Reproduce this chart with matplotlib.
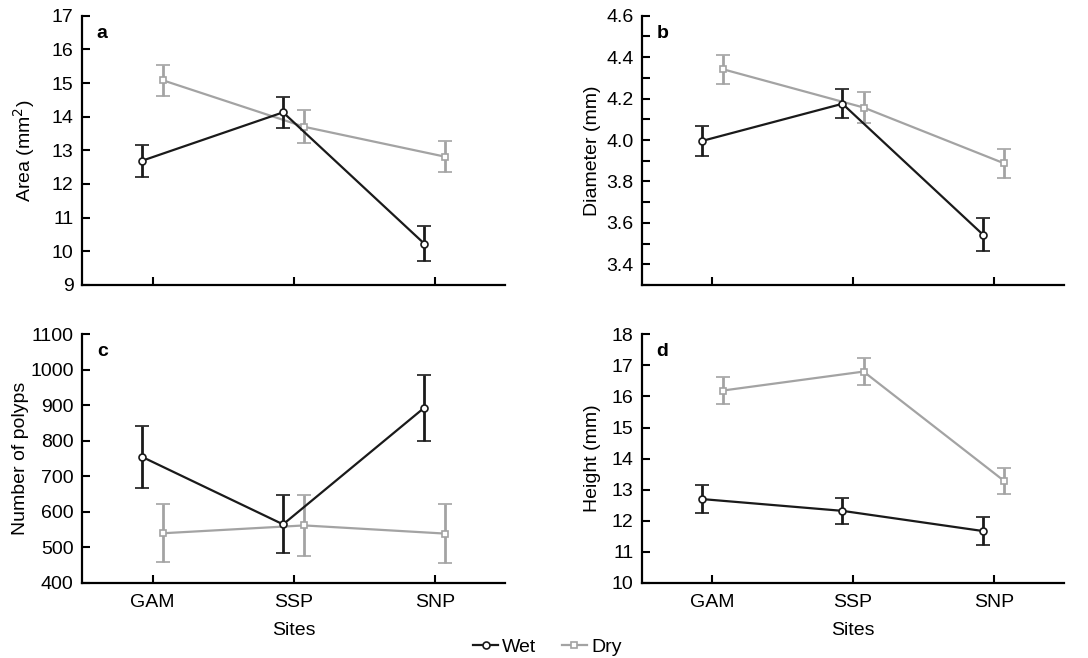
import matplotlib
matplotlib.use("Agg")
import matplotlib.pyplot as plt
from matplotlib.lines import Line2D
import numpy as np

plt.rcParams['font.family'] = ['Liberation Sans', 'DejaVu Sans']

sites = ["GAM", "SSP", "SNP"]

area_wet = [12.69, 14.13, 10.23]
area_wet_err = [0.48, 0.47, 0.52]
area_dry = [15.08, 13.70, 12.81]
area_dry_err = [0.47, 0.49, 0.46]

diam_wet = [3.995, 4.175, 3.542]
diam_wet_err = [0.073, 0.07, 0.08]
diam_dry = [4.342, 4.157, 3.887]
diam_dry_err = [0.07, 0.074, 0.07]

polyps_wet = [755, 565, 893]
polyps_wet_err = [87, 82, 92]
polyps_dry = [540, 562, 539]
polyps_dry_err = [82, 86, 82]

height_wet = [12.70, 12.32, 11.67]
height_wet_err = [0.44, 0.42, 0.46]
height_dry = [16.19, 16.80, 13.28]
height_dry_err = [0.42, 0.44, 0.43]

WET_C = "#1a1a1a"
DRY_C = "#a3a3a3"
FS = 14

fig = plt.figure(figsize=(10.88, 6.58), dpi=100)

boxes = {
    'a': [0.0754, 0.567, 0.389, 0.409],
    'b': [0.590, 0.567, 0.388, 0.409],
    'c': [0.0754, 0.114, 0.389, 0.378],
    'd': [0.590, 0.114, 0.388, 0.378],
}
label_x = {'a': -0.107, 'b': -0.098, 'c': -0.126, 'd': -0.098}

panels = [
    ('a', area_wet, area_wet_err, area_dry, area_dry_err, (9, 17), np.arange(9, 18, 1), None, "Area (mm$^2$)", "{:.0f}"),
    ('b', diam_wet, diam_wet_err, diam_dry, diam_dry_err, (3.3, 4.6), np.arange(3.4, 4.61, 0.2), np.arange(3.3, 4.61, 0.1), "Diameter (mm)", "{:.1f}"),
    ('c', polyps_wet, polyps_wet_err, polyps_dry, polyps_dry_err, (400, 1100), np.arange(400, 1101, 100), None, "Number of polyps", "{:.0f}"),
    ('d', height_wet, height_wet_err, height_dry, height_dry_err, (10, 18), np.arange(10, 19, 1), None, "Height (mm)", "{:.0f}"),
]

x = np.arange(len(sites))
off = 0.075
for key, w, we, d, de, ylim, yt, ymin, ylab, fmt in panels:
    ax = fig.add_axes(boxes[key])
    ax.errorbar(x - off, w, yerr=we, color=WET_C, lw=1.6, elinewidth=2.0, capsize=5, capthick=2.0,
                marker='o', ms=5, mfc='white', mec=WET_C, mew=1.2, zorder=3)
    ax.errorbar(x + off, d, yerr=de, color=DRY_C, lw=1.6, elinewidth=2.0, capsize=5, capthick=2.0,
                marker='s', ms=5, mfc='white', mec=DRY_C, mew=1.2, zorder=2)
    ax.set_xlim(-0.5, 2.5)
    ax.set_ylim(*ylim)
    ax.set_yticks(yt)
    ax.set_yticklabels([fmt.format(v) for v in yt])
    if ymin is not None:
        ax.set_yticks(ymin, minor=True)
        ax.tick_params(axis='y', which='minor', direction='in', length=6, width=1.5)
    ax.set_xticks(x)
    if key in ('c', 'd'):
        ax.set_xticklabels(sites)
        ax.set_xlabel("Sites", fontsize=FS, labelpad=8)
    else:
        ax.set_xticklabels([])
    ax.spines['top'].set_visible(False)
    ax.spines['right'].set_visible(False)
    ax.spines['left'].set_linewidth(1.6)
    ax.spines['bottom'].set_linewidth(1.6)
    ax.tick_params(axis='both', which='major', direction='in', length=6, width=1.5, labelsize=FS)
    ax.tick_params(axis='x', pad=8)
    ax.tick_params(axis='y', pad=6)
    ax.set_ylabel(ylab, fontsize=FS)
    ax.yaxis.set_label_coords(label_x[key], 0.5)
    ax.text(0.035, 0.965, key, transform=ax.transAxes, fontsize=FS, fontweight='bold', va='top', ha='left')

handles = [Line2D([], [], color=WET_C, lw=1.6, marker='o', ms=5, mfc='white', mec=WET_C, mew=1.2),
           Line2D([], [], color=DRY_C, lw=1.6, marker='s', ms=5, mfc='white', mec=DRY_C, mew=1.2)]
fig.legend(handles, ['Wet', 'Dry'], loc='center', bbox_to_anchor=(0.503, 0.017), ncol=2, frameon=False,
           fontsize=FS, handlelength=1.3, handletextpad=0.2, columnspacing=1.3)

fig.savefig("out.png", dpi=100)
